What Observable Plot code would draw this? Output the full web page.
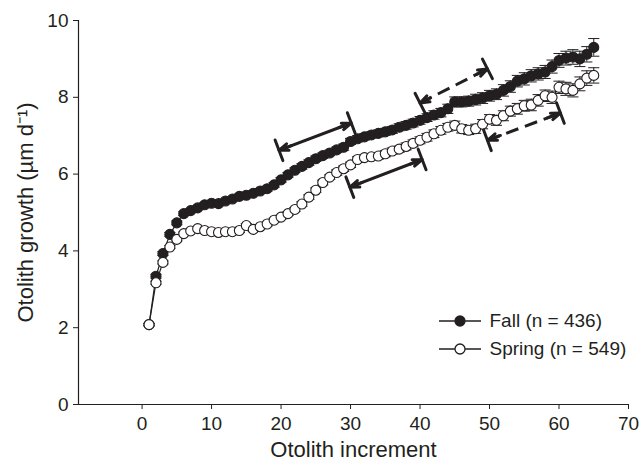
<!DOCTYPE html>
<html><head><meta charset="utf-8">
<script src="https://cdn.jsdelivr.net/npm/d3@7"></script>
<script src="https://cdn.jsdelivr.net/npm/@observablehq/plot@0.6"></script>
<style>body{margin:0;background:#fff} #chart svg{display:block}</style>
</head><body><div id="chart"></div>
<script>
const increments = d3.range(1, 66);
const fallGrowth = [2.08,3.34,3.93,4.43,4.73,4.97,5.05,5.12,5.2,5.24,
  5.23,5.3,5.35,5.42,5.45,5.5,5.56,5.62,5.72,5.85,
  5.98,6.1,6.2,6.3,6.4,6.48,6.55,6.63,6.7,6.85,
  6.92,6.97,7.02,7.06,7.1,7.15,7.22,7.27,7.33,7.4,
  7.47,7.54,7.6,7.7,7.88,7.88,7.9,7.94,7.98,8.04,
  8.08,8.18,8.28,8.42,8.48,8.56,8.61,8.66,8.8,8.96,
  9.02,9.05,9.0,9.12,9.3];
const fallSE = [0.03,0.05,0.05,0.05,0.05,0.05,0.05,0.05,0.05,0.05,
  0.05,0.05,0.05,0.06,0.06,0.06,0.06,0.06,0.06,0.06,
  0.06,0.06,0.07,0.07,0.07,0.07,0.07,0.07,0.08,0.08,
  0.08,0.08,0.08,0.09,0.09,0.09,0.09,0.1,0.1,0.1,
  0.1,0.11,0.11,0.12,0.13,0.13,0.13,0.14,0.14,0.14,
  0.14,0.15,0.15,0.15,0.16,0.16,0.16,0.17,0.17,0.18,
  0.18,0.19,0.2,0.2,0.23];
const springGrowth = [2.08,3.17,3.7,4.1,4.3,4.45,4.52,4.58,4.53,4.5,
  4.48,4.5,4.5,4.53,4.66,4.56,4.63,4.7,4.8,4.88,
  4.97,5.08,5.22,5.4,5.58,5.78,5.92,6.04,6.14,6.24,
  6.38,6.43,6.45,6.47,6.53,6.6,6.65,6.72,6.8,6.88,
  6.96,7.05,7.14,7.22,7.27,7.18,7.14,7.18,7.3,7.43,
  7.4,7.52,7.64,7.7,7.78,7.8,7.92,8.04,8.0,8.26,
  8.22,8.18,8.35,8.5,8.57];
const springSE = [0.03,0.04,0.04,0.04,0.04,0.04,0.04,0.04,0.04,0.04,
  0.04,0.04,0.05,0.05,0.05,0.05,0.05,0.05,0.05,0.05,
  0.05,0.05,0.06,0.06,0.06,0.06,0.06,0.07,0.07,0.07,
  0.07,0.07,0.07,0.08,0.08,0.08,0.08,0.09,0.09,0.09,
  0.1,0.1,0.1,0.1,0.11,0.11,0.11,0.12,0.12,0.12,
  0.13,0.13,0.13,0.14,0.14,0.15,0.15,0.15,0.16,0.16,
  0.17,0.17,0.18,0.19,0.2];
const xTicks = [0,10,20,30,40,50,60,70];
const yTicks = [0,2,4,6,8,10];
const xDomain = [-9.15, 70];
const yDomain = [0, 10];
// annotation arrows (data units)
const arrowStartX = [19.7, 29.9, 40.0, 49.7];
const arrowStartY = [6.62, 5.66, 7.85, 6.88];
const arrowEndX   = [30.1, 40.3, 49.7, 60.2];
const arrowEndY   = [7.33, 6.38, 8.74, 7.59];
const arrowDashed = [false, false, true, true];
const legendLabels = ["Fall (n = 436)", "Spring (n = 549)"];
const legendFills = ["#231f20", "#ffffff"];
const xLabel = "Otolith increment";
const yLabel = "Otolith growth (µm d⁻¹)";

const ink = "#231f20";
const fall = increments.map((x, i) => ({x, y: fallGrowth[i], e: fallSE[i]}));
const spring = increments.map((x, i) => ({x, y: springGrowth[i], e: springSE[i]}));
const arrows = arrowStartX.map((x1, i) => ({x1, y1: arrowStartY[i], x2: arrowEndX[i], y2: arrowEndY[i], dashed: arrowDashed[i]}));
const ends = arrows.flatMap(a => [a, {x1: a.x2, y1: a.y2, x2: a.x1, y2: a.y1}]);

const capW = 0.8;
function seriesMarks(data, fill) {
  return [
    Plot.line(data, {x: "x", y: "y", stroke: ink, strokeWidth: 1.2}),
    Plot.ruleX(data, {x: "x", y1: d => d.y - d.e, y2: d => d.y + d.e, stroke: ink, strokeWidth: 1}),
    Plot.link(data, {x1: d => d.x - capW, x2: d => d.x + capW, y1: d => d.y + d.e, y2: d => d.y + d.e, stroke: ink, strokeWidth: 1}),
    Plot.link(data, {x1: d => d.x - capW, x2: d => d.x + capW, y1: d => d.y - d.e, y2: d => d.y - d.e, stroke: ink, strokeWidth: 1}),
    Plot.dot(data, {x: "x", y: "y", r: 5, fill, stroke: ink, strokeWidth: 1.1})
  ];
}

const legendSymbol = {
  draw(context, size) {
    const r = Math.sqrt(size / Math.PI);
    context.moveTo(-21, 0); context.lineTo(-r, 0);
    context.moveTo(r, 0); context.lineTo(21, 0);
    context.moveTo(r, 0); context.arc(0, 0, r, 0, 2 * Math.PI);
  }
};
const legendDy = [-83.5, -55.5];
const legendMarks = legendLabels.flatMap((lab, i) => [
  Plot.dot([lab], {frameAnchor: "bottom-right", dx: -168.5, dy: legendDy[i], symbol: legendSymbol, r: 5, fill: legendFills[i], stroke: ink, strokeWidth: 1.3}),
  Plot.text([lab], {frameAnchor: "bottom-right", dx: -139, dy: legendDy[i], textAnchor: "start", lineAnchor: "middle", fontSize: 19, fill: ink})
]);

const plot = Plot.plot({
  width: 640, height: 462,
  marginLeft: 78, marginRight: 12, marginTop: 20, marginBottom: 58,
  style: {fontFamily: "'Liberation Sans', Arial, sans-serif", fontSize: "19px", color: ink, background: "#fff"},
  x: {domain: xDomain},
  y: {domain: yDomain},
  marks: [
    Plot.axisX(xTicks, {tickSize: 5, tickPadding: 7, label: null, stroke: ink, fill: ink}),
    Plot.axisY(yTicks, {tickSize: 5, tickPadding: 5, label: null, stroke: ink, fill: ink}),
    Plot.ruleY([yDomain[0]], {stroke: ink, strokeWidth: 1.2}),
    Plot.ruleX([xDomain[0]], {stroke: ink, strokeWidth: 1.2}),
    Plot.text([xLabel], {frameAnchor: "bottom", dy: 45, lineAnchor: "middle", textAnchor: "middle", fontSize: 22, fill: ink}),
    Plot.text([yLabel], {frameAnchor: "left", dx: -53, rotate: -90, lineAnchor: "middle", textAnchor: "middle", fontSize: 22, fill: ink}),
    ...seriesMarks(fall, ink),
    ...seriesMarks(spring, "#ffffff"),
    Plot.link(arrows.filter(d => !d.dashed), {x1: "x1", y1: "y1", x2: "x2", y2: "y2", stroke: ink, strokeWidth: 3}),
    Plot.link(arrows.filter(d => d.dashed), {x1: "x1", y1: "y1", x2: "x2", y2: "y2", stroke: ink, strokeWidth: 3, strokeDasharray: "13,7"}),
    Plot.arrow(ends, {x1: "x1", y1: "y1", x2: "x2", y2: "y2", insetStart: 64, headAngle: 40, headLength: 5, stroke: ink, strokeWidth: 3, strokeLinejoin: "round"}),
    Plot.arrow(ends, {x1: "x1", y1: "y1", x2: "x2", y2: "y2", insetStart: 70, headAngle: 180, headLength: 5.5, stroke: ink, strokeWidth: 3}),
    ...legendMarks
  ]
});
document.getElementById("chart").append(plot);
</script>
</body></html>
